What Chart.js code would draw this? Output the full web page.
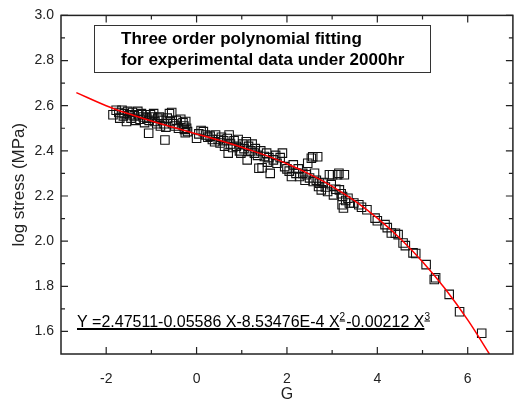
<!DOCTYPE html>
<html lang="en">
<head>
<meta charset="UTF-8">
<title>Three order polynomial fitting</title>
<script src="https://cdn.jsdelivr.net/npm/chart.js"></script>
<style>
  html, body { margin: 0; padding: 0; background: #fff; overflow: hidden; }
  #wrap { position: absolute; left: 0; top: 0; width: 520px; height: 401px; }
</style>
</head>
<body>
<div id="wrap"><canvas id="fitChart"></canvas></div>
<script>
// measured points (G, log stress)
const gValues = [
  -1.85,-1.78,-1.72,-1.70,-1.65,-1.62,-1.60,-1.55,-1.52,-1.48,-1.45,-1.42,-1.38,-1.35,-1.30,-1.28,-1.25,-1.22,-1.18,-1.15,
  -1.12,-1.10,-1.06,-1.05,-1.02,-0.98,-0.95,-0.92,-0.88,-0.86,-0.82,-0.80,-0.76,-0.72,-0.70,-0.68,-0.65,-0.60,-0.58,-0.55,
  -0.52,-0.48,-0.45,-0.40,-0.35,-0.30,-0.28,-0.27,-0.25,-0.24,-0.22,-0.20,
  0.00,0.05,0.10,0.15,0.20,0.25,0.30,0.35,0.40,0.42,0.48,0.52,0.55,0.60,0.62,0.68,0.70,0.72,0.75,0.80,
  0.83,0.88,0.92,0.95,0.98,1.02,1.05,1.10,1.12,1.15,1.20,1.23,1.28,1.30,1.35,1.38,1.42,1.45,1.50,1.55,
  1.57,1.60,1.63,1.70,1.75,1.78,1.85,1.90,1.95,2.00,
  2.05,2.10,2.14,2.20,2.25,2.28,2.35,2.40,2.43,2.46,2.50,2.54,2.57,2.58,2.61,2.65,2.68,2.70,2.72,2.76,
  2.80,2.85,2.90,2.94,2.98,3.01,3.03,3.08,3.12,3.15,3.16,3.20,3.23,3.22,3.25,3.27,3.30,3.35,3.38,
  3.48,3.59,3.65,3.77,3.95,4.00,4.17,4.22,4.31,4.40,4.46,4.57,4.62,4.79,4.85,5.08,5.26,5.29,5.59,5.82,6.31
];
const stressValues = [
  2.560,2.580,2.570,2.545,2.580,2.555,2.565,2.530,2.575,2.560,2.545,2.570,2.555,2.535,2.575,2.560,2.540,2.565,2.550,2.525,
  2.560,2.545,2.478,2.535,2.560,2.550,2.565,2.530,2.520,2.545,2.550,2.510,2.535,2.520,2.448,2.505,2.545,2.565,2.530,2.570,
  2.520,2.510,2.535,2.500,2.540,2.525,2.510,2.495,2.480,2.530,2.500,2.485,
  2.456,2.475,2.490,2.485,2.470,2.460,2.465,2.450,2.440,2.470,2.450,2.435,2.460,2.445,2.420,2.455,2.390,2.470,2.430,2.415,
  2.445,2.420,2.450,2.400,2.390,2.430,2.410,2.440,2.360,2.420,2.400,2.430,2.390,2.410,2.380,2.323,2.400,2.325,2.375,2.390,
  2.350,2.370,2.300,2.360,2.380,2.345,2.370,2.390,2.330,2.320,
  2.310,2.286,2.338,2.300,2.320,2.286,2.300,2.270,2.294,2.345,2.280,2.367,2.374,2.264,2.301,2.270,2.374,2.242,2.257,2.227,
  2.260,2.240,2.220,2.294,2.250,2.294,2.205,2.230,2.294,2.301,2.227,2.210,2.198,2.161,2.147,2.294,2.180,2.190,2.169,
  2.169,2.161,2.150,2.139,2.102,2.090,2.073,2.060,2.036,2.035,2.029,1.992,1.980,1.948,1.945,1.896,1.830,1.838,1.764,1.687,1.592
];

// fitted curve
const fitG      = [-2.66, -2.0, -1.5, -1.0, -0.5, 0.0, 0.5, 1.0, 1.5, 2.0, 2.5, 3.0, 3.5, 4.0, 4.5, 5.0, 5.5, 6.0, 6.48];
const fitStress = [2.658, 2.600, 2.564, 2.532, 2.503, 2.475, 2.447, 2.416, 2.382, 2.343, 2.297, 2.243, 2.178, 2.102, 2.013, 1.909, 1.789, 1.651, 1.500];

const xTicks = [-2, 0, 2, 4, 6];
const xMinor = [-1, 1, 3, 5];
const yTicks = [1.6, 1.8, 2.0, 2.2, 2.4, 2.6, 2.8, 3.0];
const yMinor = [1.7, 1.9, 2.1, 2.3, 2.5, 2.7, 2.9];

const boxLines = ['Three order polynomial fitting', 'for experimental data under 2000hr'];
const equation = [
  { text: 'Y =2.47511-0.05586 X-8.53476E-4 X', sup: false },
  { text: '2', sup: true },
  { text: '-0.00212 X', sup: false },
  { text: '3', sup: true }
];

const FONT = '"Liberation Sans", Arial, sans-serif';

const framePlugin = {
  id: 'frame',
  afterDraw(chart) {
    const { ctx, chartArea: a, scales: { x, y } } = chart;
    ctx.save();
    ctx.strokeStyle = '#222';
    ctx.lineWidth = 1.5;
    ctx.strokeRect(a.left, a.top, a.right - a.left, a.bottom - a.top);

    // inward ticks on all four sides
    ctx.lineWidth = 1.2;
    ctx.beginPath();
    const tickX = (v, len) => {
      const px = x.getPixelForValue(v);
      ctx.moveTo(px, a.bottom); ctx.lineTo(px, a.bottom - len);
      ctx.moveTo(px, a.top); ctx.lineTo(px, a.top + len);
    };
    const tickY = (v, len) => {
      const py = y.getPixelForValue(v);
      ctx.moveTo(a.left, py); ctx.lineTo(a.left + len, py);
      ctx.moveTo(a.right, py); ctx.lineTo(a.right - len, py);
    };
    xTicks.forEach(v => tickX(v, 7));
    xMinor.forEach(v => tickX(v, 4));
    yTicks.forEach(v => tickY(v, 7));
    yMinor.forEach(v => tickY(v, 4));
    ctx.stroke();

    // caption box
    ctx.lineWidth = 1;
    ctx.strokeStyle = '#333';
    ctx.strokeRect(94.5, 25.5, 336, 47);
    ctx.fillStyle = '#000';
    ctx.font = 'bold 17px ' + FONT;
    ctx.textBaseline = 'alphabetic';
    ctx.fillText(boxLines[0], 121, 44);
    ctx.fillText(boxLines[1], 121, 65);

    // underlined equation
    let cx = 77;
    const base = 326.5;
    equation.forEach(p => {
      ctx.font = (p.sup ? '10px ' : '16px ') + FONT;
      const b = p.sup ? base - 7 : base;
      ctx.fillText(p.text, cx, b);
      const w = ctx.measureText(p.text).width;
      ctx.fillRect(cx, b + (p.sup ? 1 : 1.5), w, p.sup ? 1 : 2);
      cx += w + (p.sup ? 1 : 0);
    });
    ctx.restore();
  }
};

new Chart(document.getElementById('fitChart'), {
  type: 'scatter',
  data: {
    datasets: [
      {
        type: 'line',
        data: fitG.map((g, i) => ({ x: g, y: fitStress[i] })),
        borderColor: '#ff0000',
        borderWidth: 1.5,
        pointRadius: 0,
        tension: 0.4,
        fill: false
      },
      {
        data: gValues.map((g, i) => ({ x: g, y: stressValues[i] })),
        pointStyle: 'rect',
        pointRadius: 6,
        borderColor: '#111',
        borderWidth: 1.1,
        backgroundColor: 'rgba(255,255,255,0)'
      }
    ]
  },
  options: {
    responsive: true,
    maintainAspectRatio: false,
    animation: false,
    devicePixelRatio: 1,
    layout: { padding: { left: 0, top: 15, right: 1, bottom: 0 } },
    plugins: { legend: { display: false }, tooltip: { enabled: false } },
    scales: {
      x: {
        type: 'linear',
        min: -3,
        max: 7,
        grid: { display: false, drawTicks: false },
        border: { display: false },
        afterBuildTicks: s => { s.ticks = xTicks.map(v => ({ value: v })); },
        afterFit: s => { s.height = 47; },
        ticks: { color: '#222', font: { family: FONT, size: 14 }, padding: 17 },
        title: { display: true, text: 'G', color: '#222', font: { family: FONT, size: 16 }, padding: { top: 0, bottom: -3 } }
      },
      y: {
        type: 'linear',
        min: 1.5,
        max: 3.0,
        grid: { display: false, drawTicks: false },
        border: { display: false },
        afterBuildTicks: s => { s.ticks = yTicks.map(v => ({ value: v })); },
        afterFit: s => { s.width = 61; },
        ticks: { color: '#222', font: { family: FONT, size: 14 }, padding: 7, callback: v => v.toFixed(1) },
        title: { display: true, text: 'log stress (MPa)', color: '#222', font: { family: FONT, size: 17 }, padding: { top: 9, bottom: 0 } }
      }
    }
  },
  plugins: [framePlugin]
});
</script>
</body>
</html>
